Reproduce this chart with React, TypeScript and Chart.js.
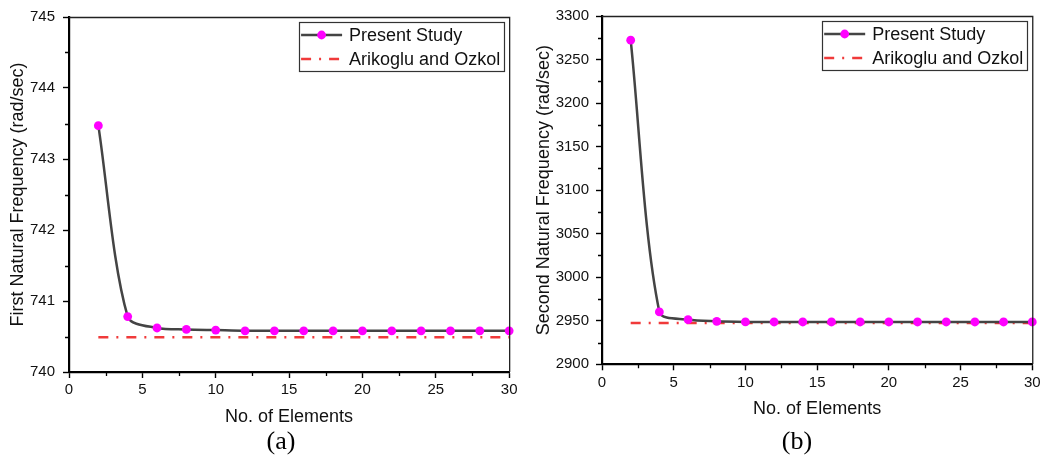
import React, { useEffect, useRef } from "react";
import { Chart, registerables } from "chart.js";

Chart.register(...registerables);

// Mesh sizes used in the convergence study
const elements = [2, 4, 6, 8, 10, 12, 14, 16, 18, 20, 22, 24, 26, 28, 30];

// First natural frequency (rad/sec) from the present finite element model
const firstFrequency = [
  743.47, 740.78, 740.62, 740.6, 740.59, 740.58, 740.58, 740.58, 740.58, 740.58, 740.58, 740.58,
  740.58, 740.58, 740.58,
];

// Second natural frequency (rad/sec) from the present finite element model
const secondFrequency = [
  3272.2, 2960.1, 2951.4, 2949.4, 2948.7, 2948.6, 2948.6, 2948.6, 2948.6, 2948.6, 2948.6, 2948.6,
  2948.6, 2948.6, 2948.6,
];

// Reference solution (Arikoglu and Ozkol), drawn as a constant line
const referenceElements = [2, 30];
const referenceFirst = [740.49, 740.49];
const referenceSecond = [2947.5, 2947.5];

const seriesLabels = ["Present Study", "Arikoglu and Ozkol"];
const xAxisTitle = "No. of Elements";
const yAxisTitles = ["First Natural Frequency (rad/sec)", "Second Natural Frequency (rad/sec)"];
const panelCaptions = ["(a)", "(b)"];

const SANS = "'Liberation Sans', Arial, Helvetica, sans-serif";
const SERIF = "'Liberation Serif', 'Times New Roman', serif";

// Top/right frame lines plus short minor tick marks on both axes
const framePlugin = {
  id: "frameTicks",
  afterDraw(chart: any, _args: any, opts: any) {
    const { ctx, chartArea } = chart;
    const xs = chart.scales.x;
    const ys = chart.scales.y;
    ctx.save();
    ctx.strokeStyle = "#222";
    ctx.lineWidth = 1.3;
    ctx.beginPath();
    ctx.moveTo(chartArea.left, chartArea.top + 0.5);
    ctx.lineTo(chartArea.right + 0.5, chartArea.top + 0.5);
    ctx.lineTo(chartArea.right + 0.5, chartArea.bottom);
    ctx.stroke();

    ctx.strokeStyle = "#000";
    ctx.lineWidth = 1.3;
    ctx.beginPath();
    for (let v = xs.min + opts.xMinor; v < xs.max; v += opts.xMinor * 2) {
      const px = Math.round(xs.getPixelForValue(v)) + 0.5;
      ctx.moveTo(px, chartArea.bottom);
      ctx.lineTo(px, chartArea.bottom + 4);
    }
    for (let v = ys.min + opts.yMinor; v < ys.max; v += opts.yMinor * 2) {
      const py = Math.round(ys.getPixelForValue(v)) + 0.5;
      ctx.moveTo(chartArea.left, py);
      ctx.lineTo(chartArea.left - 4, py);
    }
    ctx.stroke();
    ctx.restore();
  },
};

// Boxed legend in the upper-right corner with line + marker samples
const legendBoxPlugin = {
  id: "legendBox",
  afterDraw(chart: any) {
    const { ctx, chartArea } = chart;
    const sets = chart.data.datasets;
    ctx.save();
    ctx.font = `18px ${SANS}`;
    const textW = Math.max(...sets.map((d: any) => ctx.measureText(d.label).width));
    const sampleW = 41;
    const boxW = 2 + sampleW + 7 + textW + 4;
    const boxH = 49;
    const right = chartArea.right - 5;
    const left = right - boxW;
    const top = chartArea.top + 5;

    ctx.fillStyle = "#fff";
    ctx.fillRect(left, top, boxW, boxH);
    ctx.strokeStyle = "#333";
    ctx.lineWidth = 1.2;
    ctx.strokeRect(Math.round(left) + 0.5, Math.round(top) + 0.5, Math.round(boxW), boxH);

    sets.forEach((d: any, i: number) => {
      const cy = top + 13 + i * 24;
      const x0 = left + 2;
      ctx.save();
      ctx.strokeStyle = d.borderColor;
      ctx.lineWidth = d.borderWidth;
      ctx.setLineDash(d.borderDash || []);
      ctx.beginPath();
      ctx.moveTo(x0, cy);
      ctx.lineTo(x0 + sampleW, cy);
      ctx.stroke();
      ctx.restore();
      if (d.pointRadius > 0) {
        ctx.fillStyle = d.pointBackgroundColor;
        ctx.beginPath();
        ctx.arc(x0 + sampleW / 2, cy, d.pointRadius, 0, Math.PI * 2);
        ctx.fill();
      }
      ctx.fillStyle = "#111";
      ctx.textBaseline = "middle";
      ctx.textAlign = "left";
      ctx.fillText(d.label, x0 + sampleW + 7, cy + 1);
    });
    ctx.restore();
  },
};

type PanelProps = {
  left: number;
  width: number;
  yTitle: string;
  values: number[];
  reference: number[];
  yMin: number;
  yMax: number;
  yStep: number;
  yMinor: number;
  yAxisWidth: number;
  yTitlePad: number;
  yLabelPad: number;
  xLabelPad: number;
  padRight: number;
  padBottom: number;
};

function Panel(p: PanelProps) {
  const ref = useRef<HTMLCanvasElement | null>(null);

  useEffect(() => {
    if (!ref.current) return;
    const tickFont = { family: SANS, size: 15 };
    const titleFont = { family: SANS, size: 18 };
    const plainNumber = (v: any) => String(v);
    const chart = new Chart(ref.current, {
      type: "line",
      data: {
        datasets: [
          {
            label: seriesLabels[0],
            data: elements.map((x, i) => ({ x, y: p.values[i] })),
            borderColor: "#444444",
            borderWidth: 2.5,
            tension: 0.3,
            pointRadius: 4.4,
            pointHoverRadius: 4.4,
            pointBackgroundColor: "#ff00ff",
            pointBorderColor: "#ff00ff",
            pointBorderWidth: 0,
            clip: false,
            order: 0,
          },
          {
            label: seriesLabels[1],
            data: referenceElements.map((x, i) => ({ x, y: p.reference[i] })),
            borderColor: "#f03a3a",
            borderWidth: 2.5,
            borderDash: [10, 8, 2, 8],
            pointRadius: 0,
            tension: 0,
            order: 1,
          },
        ],
      },
      options: {
        animation: false,
        responsive: false,
        events: [],
        layout: { padding: { left: 0, top: 14, right: p.padRight, bottom: p.padBottom } },
        plugins: {
          legend: { display: false },
          tooltip: { enabled: false },
          title: { display: false },
          frameTicks: { xMinor: 2.5, yMinor: p.yMinor },
        } as any,
        scales: {
          x: {
            type: "linear",
            min: 0,
            max: 30,
            afterFit: (s: any) => {
              s.height = 55.8;
            },
            ticks: {
              stepSize: 5,
              font: tickFont,
              color: "#111",
              padding: p.xLabelPad,
              maxRotation: 0,
              callback: plainNumber,
            },
            grid: {
              drawOnChartArea: false,
              drawTicks: true,
              tickLength: 6,
              tickColor: "#000",
              tickWidth: 1.4,
            },
            border: { display: true, color: "#000", width: 2.2 },
            title: {
              display: true,
              text: xAxisTitle,
              font: titleFont,
              color: "#111",
              padding: { top: 0, bottom: 0 },
            },
          },
          y: {
            type: "linear",
            min: p.yMin,
            max: p.yMax,
            afterFit: (s: any) => {
              s.width = p.yAxisWidth;
            },
            ticks: {
              stepSize: p.yStep,
              font: tickFont,
              color: "#111",
              padding: p.yLabelPad,
              callback: plainNumber,
            },
            grid: {
              drawOnChartArea: false,
              drawTicks: true,
              tickLength: 6,
              tickColor: "#000",
              tickWidth: 1.4,
            },
            border: { display: true, color: "#000", width: 2.2 },
            title: {
              display: true,
              text: p.yTitle,
              font: titleFont,
              color: "#111",
              padding: { top: p.yTitlePad, bottom: 0 },
            },
          },
        },
      },
      plugins: [framePlugin, legendBoxPlugin],
    });
    return () => chart.destroy();
  }, []);

  return (
    <canvas
      ref={ref}
      width={p.width}
      height={458}
      style={{ position: "absolute", left: p.left, top: 0, width: p.width, height: 458 }}
    />
  );
}

export default function App() {
  const caption: React.CSSProperties = {
    position: "absolute",
    top: 426,
    width: 100,
    textAlign: "center",
    fontFamily: SERIF,
    fontSize: 26,
    lineHeight: "30px",
    color: "#000",
  };
  return (
    <div
      style={{
        position: "fixed",
        left: 0,
        top: 0,
        width: 1044,
        height: 458,
        background: "#fff",
        overflow: "hidden",
      }}
    >
      <Panel
        left={0}
        width={520}
        yTitle={yAxisTitles[0]}
        values={firstFrequency}
        reference={referenceFirst}
        yMin={740}
        yMax={745}
        yStep={1}
        yMinor={0.5}
        yAxisWidth={69}
        yTitlePad={7.2}
        yLabelPad={8}
        xLabelPad={2.5}
        padRight={8}
        padBottom={30.2}
      />
      <Panel
        left={520}
        width={524}
        yTitle={yAxisTitles[1]}
        values={secondFrequency}
        reference={referenceSecond}
        yMin={2900}
        yMax={3300}
        yStep={50}
        yMinor={25}
        yAxisWidth={82}
        yTitlePad={13.4}
        yLabelPad={7}
        xLabelPad={3.4}
        padRight={9}
        padBottom={37.9}
      />
      <div style={{ ...caption, left: 281 - 50 }}>{panelCaptions[0]}</div>
      <div style={{ ...caption, left: 797 - 50 }}>{panelCaptions[1]}</div>
    </div>
  );
}
